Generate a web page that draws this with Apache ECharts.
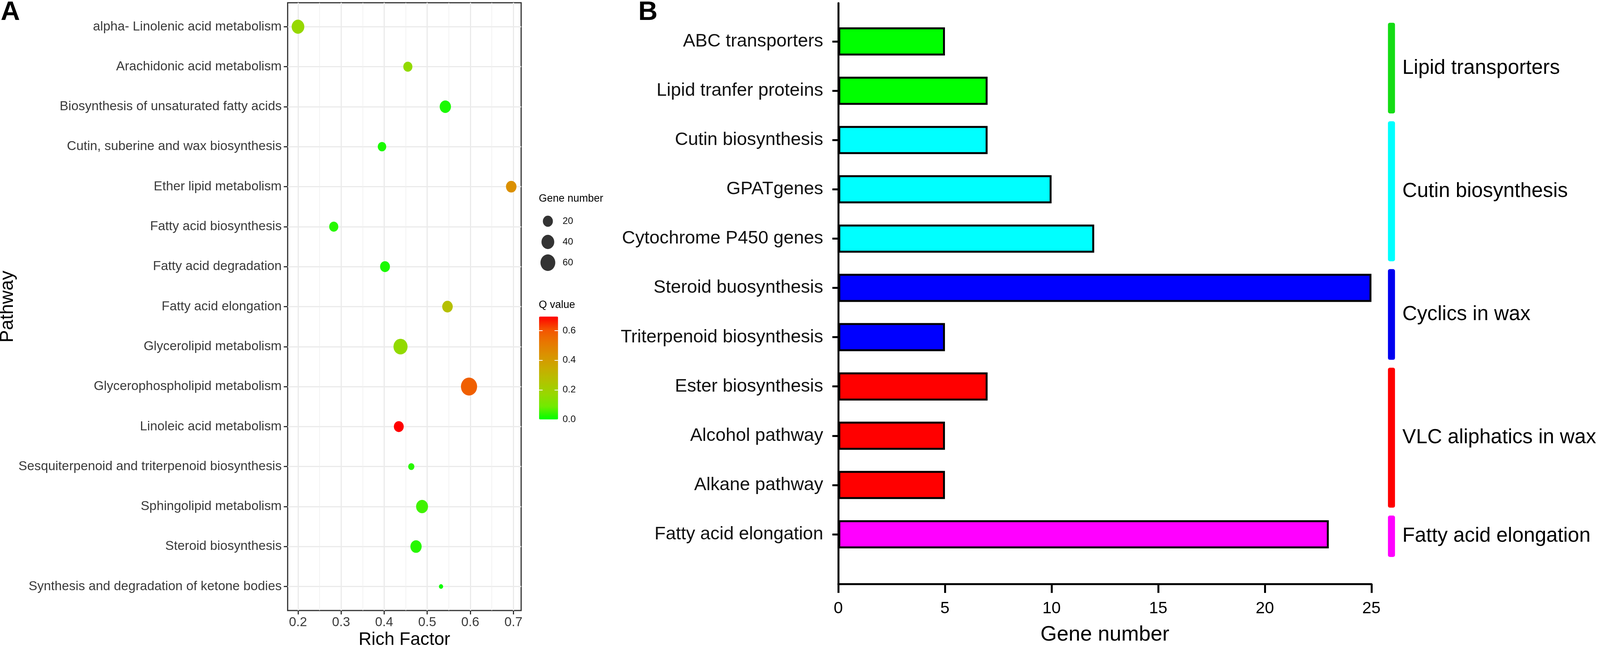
<!DOCTYPE html>
<html>
<head>
<meta charset="utf-8">
<script src="https://cdn.jsdelivr.net/npm/echarts@6/dist/echarts.min.js"></script>
<style>
html,body{margin:0;padding:0;background:#fff;overflow:hidden;}
#chart{height:1663px;}
</style>
</head>
<body>
<div id="chart"></div>
<script>
// ---------- Panel A data ----------
const pathways = [
  'alpha- Linolenic acid metabolism',
  'Arachidonic acid metabolism',
  'Biosynthesis of unsaturated fatty acids',
  'Cutin, suberine and wax biosynthesis',
  'Ether lipid metabolism',
  'Fatty acid biosynthesis',
  'Fatty acid degradation',
  'Fatty acid elongation',
  'Glycerolipid metabolism',
  'Glycerophospholipid metabolism',
  'Linoleic acid metabolism',
  'Sesquiterpenoid and triterpenoid biosynthesis',
  'Sphingolipid metabolism',
  'Steroid biosynthesis',
  'Synthesis and degradation of ketone bodies'
];
const richFactor = [0.200, 0.455, 0.542, 0.395, 0.695, 0.283, 0.402, 0.547, 0.438, 0.597, 0.434, 0.463, 0.488, 0.474, 0.532];
const geneNumber = [39, 15, 28, 12, 23, 15, 19, 23, 52, 75, 19, 5, 33, 28, 3];
const qValue = [0.17, 0.16, 0.02, 0.02, 0.44, 0.03, 0.02, 0.27, 0.16, 0.58, 0.695, 0.03, 0.05, 0.03, 0.01];
const richTicks = [0.2, 0.3, 0.4, 0.5, 0.6, 0.7];
const richMinorTicks = [0.25, 0.35, 0.45, 0.55, 0.65];
const sizeLegendValues = [20, 40, 60];
const qTicks = [0.0, 0.2, 0.4, 0.6];

// ---------- Panel B data ----------
const barCategories = [
  'ABC transporters', 'Lipid tranfer proteins', 'Cutin biosynthesis', 'GPATgenes',
  'Cytochrome P450 genes', 'Steroid buosynthesis', 'Triterpenoid biosynthesis',
  'Ester biosynthesis', 'Alcohol pathway', 'Alkane pathway', 'Fatty acid elongation'
];
const barValues = [5, 7, 7, 10, 12, 25, 5, 7, 5, 5, 23];
const barGroup = [0, 0, 1, 1, 1, 2, 2, 3, 3, 3, 4];
const groupNames = ['Lipid transporters', 'Cutin biosynthesis', 'Cyclics in wax', 'VLC aliphatics in wax', 'Fatty acid elongation'];
const groupStart = [0, 2, 5, 7, 10];
const groupEnd = [1, 4, 6, 9, 10];
const groupBarColors = ['#00FF00', '#00FFFF', '#0000FF', '#FF0000', '#FF00FF'];
const groupLineColors = ['#14DC14', '#00FFFF', '#0000F0', '#FF0000', '#FF00FF'];

// ---------- layout helpers ----------
const FONT = '"Liberation Sans", Arial, sans-serif';
const VW = document.documentElement.clientWidth || window.innerWidth || 4550;
const K = Math.min(1, VW / 4550);          // horizontal scale of the 4550-wide design
document.getElementById('chart').style.width = Math.round(4550 * K) + 'px';
const sx = v => v * K;
const fs = v => Math.round(v * K * 10) / 10;

const nMin = Math.min.apply(null, geneNumber), nMax = Math.max.apply(null, geneNumber);
function sizeFor(n) {
  const t = Math.max(0, (n - nMin) / (nMax - nMin));
  return 12 + 34 * Math.sqrt(t);
}
const ELLIPSE = 'path://M0,-1A1,1,0,1,1,0,1A1,1,0,1,1,0,-1Z';
const qMax = Math.max.apply(null, qValue);
const qColors = ['#00FF00', '#70EB00', '#98D700', '#B3C200', '#C9AB00', '#DA9200', '#E87700', '#F45300', '#FF0000'];

const scatterData = pathways.map((p, i) => [richFactor[i], i, geneNumber[i], qValue[i]]);

const chart = echarts.init(document.getElementById('chart'));
chart.setOption({
  animation: false,
  backgroundColor: '#ffffff',
  textStyle: { fontFamily: FONT },
  title: [
    { text: 'A', left: sx(2), top: -2, padding: 0, textStyle: { fontFamily: FONT, fontWeight: 'bold', fontSize: fs(76), color: '#000' } },
    { text: 'B', left: sx(1815), top: -2, padding: 0, textStyle: { fontFamily: FONT, fontWeight: 'bold', fontSize: fs(76), color: '#000' } },
    { text: 'Gene number', left: sx(1532), top: 495, padding: 0, textStyle: { fontFamily: FONT, fontWeight: 'normal', fontSize: fs(30), color: '#000' } },
    { text: 'Q value', left: sx(1532), top: 767, padding: 0, textStyle: { fontFamily: FONT, fontWeight: 'normal', fontSize: fs(30), color: '#000' } }
  ],
  grid: [
    { left: sx(818), top: 7, width: sx(664), height: 1555, show: true, borderColor: '#333333', borderWidth: 3, backgroundColor: 'transparent', outerBoundsMode: 'none' },
    { left: sx(2384), top: 8, width: sx(1516), height: 1486, outerBoundsMode: 'none' },
    { left: sx(2384), top: 43, width: sx(1516), height: 1387, outerBoundsMode: 'none' },
    { left: sx(1538), top: 539.5, width: sx(40), height: 159, outerBoundsMode: 'none' },
    { left: sx(1533), top: 810, width: sx(54), height: 263, outerBoundsMode: 'none' }
  ],
  xAxis: [
    {
      gridIndex: 0, type: 'value', min: 0.176, max: 0.718,
      name: 'Rich Factor', nameLocation: 'middle', nameGap: 52,
      nameTextStyle: { fontFamily: FONT, fontSize: fs(51), color: '#000' },
      axisLine: { show: false, onZero: false },
      axisTick: { show: true, length: 10, customValues: richTicks, lineStyle: { color: '#333333', width: 3 } },
      axisLabel: { show: true, customValues: richTicks, margin: 14, fontSize: fs(37), color: '#3a3a3a', fontFamily: FONT, formatter: v => v.toFixed(1) },
      splitLine: { show: true, lineStyle: { color: '#EBEBEB', width: 3 } }
    },
    {
      gridIndex: 0, type: 'value', min: 0.176, max: 0.718, position: 'bottom',
      axisLine: { show: false, onZero: false },
      axisTick: { show: false, customValues: richMinorTicks },
      axisLabel: { show: false, customValues: richMinorTicks },
      splitLine: { show: true, lineStyle: { color: '#EFEFEF', width: 1.5 } }
    },
    {
      gridIndex: 1, type: 'value', min: 0, max: 25, interval: 5,
      name: 'Gene number', nameLocation: 'middle', nameGap: 103,
      nameTextStyle: { fontFamily: FONT, fontSize: fs(60), color: '#000' },
      axisLine: { show: true, onZero: false, lineStyle: { color: '#000', width: 5 } },
      axisTick: { show: true, length: 23, lineStyle: { color: '#000', width: 5 } },
      axisLabel: { show: true, margin: 42, fontSize: fs(47), color: '#000', fontFamily: FONT },
      splitLine: { show: false }
    },
    { gridIndex: 2, type: 'value', min: 0, max: 25, show: false },
    { gridIndex: 3, type: 'value', min: 0, max: 1, show: false },
    { gridIndex: 4, type: 'value', min: 0, max: 1, show: false }
  ],
  yAxis: [
    {
      gridIndex: 0, type: 'value', min: -0.6, max: 14.6, inverse: true,
      name: 'Pathway', nameLocation: 'middle', nameGap: sx(818) - 54, nameRotate: 90,
      nameTextStyle: { fontFamily: FONT, fontSize: 48, color: '#000' },
      axisLine: { show: false, onZero: false },
      axisTick: { show: true, length: sx(11), customValues: pathways.map((p, i) => i), lineStyle: { color: '#333333', width: 3 } },
      axisLabel: { show: true, customValues: pathways.map((p, i) => i), margin: sx(17), fontSize: fs(37), color: '#3a3a3a', fontFamily: FONT, formatter: v => pathways[Math.round(v)] },
      splitLine: { show: true, lineStyle: { color: '#EBEBEB', width: 3 } }
    },
    {
      gridIndex: 1, type: 'value', min: 0, max: 1,
      axisLine: { show: true, onZero: false, lineStyle: { color: '#000', width: 5 } },
      axisTick: { show: false }, axisLabel: { show: false }, splitLine: { show: false }
    },
    {
      gridIndex: 2, type: 'category', data: barCategories, inverse: true,
      axisLine: { show: false, onZero: false },
      axisTick: { show: true, alignWithLabel: true, length: sx(17), lineStyle: { color: '#000', width: 5 } },
      axisLabel: { show: true, margin: sx(43), fontSize: fs(52), color: '#111', fontFamily: FONT },
      splitLine: { show: false }
    },
    {
      gridIndex: 3, type: 'category', data: sizeLegendValues.map(String), inverse: true, position: 'right',
      axisLine: { show: false, onZero: false }, axisTick: { show: false },
      axisLabel: { show: true, margin: sx(22), fontSize: fs(27), color: '#111', fontFamily: FONT },
      splitLine: { show: false }
    },
    {
      gridIndex: 4, type: 'value', min: 0, max: qMax, position: 'right', z: 10,
      axisLine: { show: false, onZero: false },
      axisTick: { show: true, inside: true, length: sx(10), customValues: [0.2, 0.4, 0.6], lineStyle: { color: '#ffffff', width: 2 } },
      axisLabel: { show: true, customValues: qTicks, margin: sx(13), fontSize: fs(27), color: '#111', fontFamily: FONT, formatter: v => v.toFixed(1) },
      splitLine: { show: false }
    },
    {
      gridIndex: 4, type: 'value', min: 0, max: qMax, position: 'left', z: 10,
      axisLine: { show: false, onZero: false },
      axisTick: { show: true, inside: true, length: sx(10), customValues: [0.2, 0.4, 0.6], lineStyle: { color: '#ffffff', width: 2 } },
      axisLabel: { show: false },
      splitLine: { show: false }
    }
  ],
  visualMap: [{
    type: 'continuous', seriesIndex: 0, dimension: 3,
    min: 0, max: qMax, calculable: false, hoverLink: false,
    left: sx(1533), top: 810, itemWidth: sx(54), itemHeight: 263, padding: 0,
    inRange: { color: qColors }
  }],
  series: [
    {
      type: 'scatter', xAxisIndex: 0, yAxisIndex: 0,
      data: scatterData,
      symbol: ELLIPSE,
      symbolSize: v => [sizeFor(v[2]) * K, sizeFor(v[2])],
      itemStyle: { opacity: 1 },
      z: 5
    },
    {
      type: 'bar', xAxisIndex: 3, yAxisIndex: 2,
      data: barValues.map((v, i) => ({ value: v, itemStyle: { color: groupBarColors[barGroup[i]] } })),
      barWidth: 72,
      itemStyle: { borderColor: '#000', borderWidth: 5 }
    },
    {
      type: 'custom', xAxisIndex: 3, yAxisIndex: 2, clip: false,
      data: groupNames.map((g, i) => ({ value: [groupStart[i], groupEnd[i]], name: g })),
      encode: { x: 0, y: 1 },
      renderItem: function (params, api) {
        const i = params.dataIndex;
        const band = api.size([0, 1])[1];
        const p0 = api.coord([25, groupStart[i]]);
        const p1 = api.coord([25, groupEnd[i]]);
        const y0 = p0[1] - 0.38 * band;
        const y1 = p1[1] + 0.46 * band;
        const x = p0[0] + sx(47);
        return {
          type: 'group',
          children: [
            { type: 'rect', shape: { x: x, y: y0, width: sx(20), height: y1 - y0, r: 5 }, style: { fill: groupLineColors[i] } },
            { type: 'text', style: { text: groupNames[i], x: x + sx(41), y: (y0 + y1) / 2, align: 'left', verticalAlign: 'middle', fontSize: fs(58), fontFamily: FONT, fill: '#000' } }
          ]
        };
      }
    },
    {
      type: 'scatter', xAxisIndex: 4, yAxisIndex: 3,
      data: sizeLegendValues.map(v => [0.5, String(v), v]),
      symbol: ELLIPSE,
      symbolSize: v => [sizeFor(v[2]) * K, sizeFor(v[2])],
      itemStyle: { color: '#000' }
    }
  ]
});
</script>
</body>
</html>
